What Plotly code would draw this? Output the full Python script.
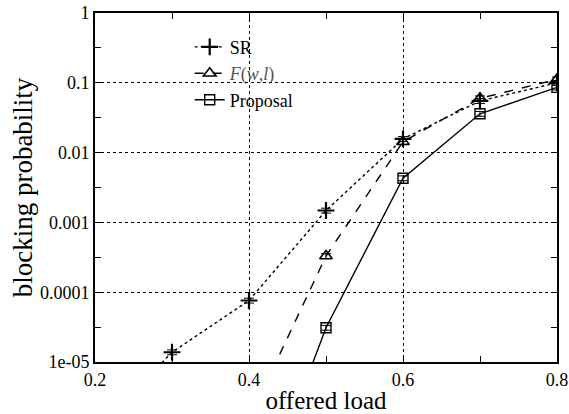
import plotly.graph_objects as go

# offered load values at which blocking probability was measured
load = [0.2, 0.3, 0.4, 0.5, 0.6, 0.7, 0.8]

# blocking probability per scheme
sr = [1.0e-6, 1.38e-5, 7.6e-5, 1.48e-3, 0.0157, 0.055, 0.100]
fwl = [None, None, 1.5e-6, 3.3e-4, 0.0143, 0.060, 0.112]
proposal = [None, None, 3.6e-8, 3.1e-5, 4.3e-3, 0.036, 0.086]

y_ticks = [1, 0.1, 0.01, 0.001, 0.0001, 0.00001]
y_tick_text = ["1", "0.1", "0.01", "0.001", "0.0001", "1e-05"]
x_ticks = [0.2, 0.4, 0.6, 0.8]
x_tick_text = ["0.2", "0.4", "0.6", "0.8"]

FONT = "Liberation Serif"


def rel_err(vals, frac=0.08):
    return [None if v is None else v * frac for v in vals]


fig = go.Figure()

fig.add_trace(go.Scatter(
    x=load, y=sr, name="SR", mode="lines+markers",
    line=dict(color="black", width=1.4, dash="dot"),
    marker=dict(symbol="cross-thin", size=12, line=dict(color="black", width=2.2)),
    error_y=dict(type="data", array=rel_err(sr), color="black", thickness=1, width=5),
))
fig.add_trace(go.Scatter(
    x=load, y=fwl, name="<span style='color:#555'><i>F</i>(<i>w</i>,<i>l</i>)</span>",
    mode="lines+markers",
    line=dict(color="black", width=1.4, dash="dash"),
    marker=dict(symbol="triangle-up-open", size=11, color="black",
                line=dict(color="black", width=1.6)),
    error_y=dict(type="data", array=rel_err(fwl), color="black", thickness=1, width=5),
))
fig.add_trace(go.Scatter(
    x=load, y=proposal, name="Proposal", mode="lines+markers",
    line=dict(color="black", width=1.4),
    marker=dict(symbol="square-open", size=10, color="black",
                line=dict(color="black", width=1.4)),
    error_y=dict(type="data", array=rel_err(proposal), color="black", thickness=1, width=5),
))

axis_common = dict(
    showline=True, linecolor="black", linewidth=1.6, mirror="ticks",
    ticks="inside", ticklen=6, tickwidth=1.2, tickcolor="black",
    showgrid=True, gridcolor="black", gridwidth=1, griddash="dot",
    zeroline=False, automargin=False,
    tickfont=dict(family=FONT, size=18, color="black"),
)

fig.update_xaxes(
    range=[0.2, 0.8], tickvals=x_ticks, ticktext=x_tick_text,
    minor=dict(tickvals=[0.3, 0.5, 0.7], ticks="inside", ticklen=6,
               tickcolor="black", tickwidth=1.2, showgrid=False),
    ticklabelstandoff=1,
    title=dict(text="offered load", font=dict(family=FONT, size=25, color="black"),
               standoff=6),
    **axis_common,
)
fig.update_yaxes(
    type="log", range=[-5, 0], tickvals=y_ticks, ticktext=y_tick_text,
    minor=dict(tickvals=[10 ** (k + 0.5) for k in range(-5, 0)], ticks="inside",
               ticklen=6, tickcolor="black", tickwidth=1.2, showgrid=False),
    title=dict(text="blocking probability", font=dict(family=FONT, size=27, color="black"),
               standoff=0),
    **axis_common,
)

fig.update_layout(
    width=569, height=414,
    margin=dict(l=95, r=12, t=13, b=52, autoexpand=False),
    paper_bgcolor="white", plot_bgcolor="white",
    font=dict(family=FONT, color="black"),
    showlegend=True,
    legend=dict(x=0.205, y=0.955, xanchor="left", yanchor="top",
                bgcolor="rgba(0,0,0,0)", borderwidth=0,
                font=dict(family=FONT, size=18, color="black"),
                tracegroupgap=0),
)

fig.write_html("out.html")
